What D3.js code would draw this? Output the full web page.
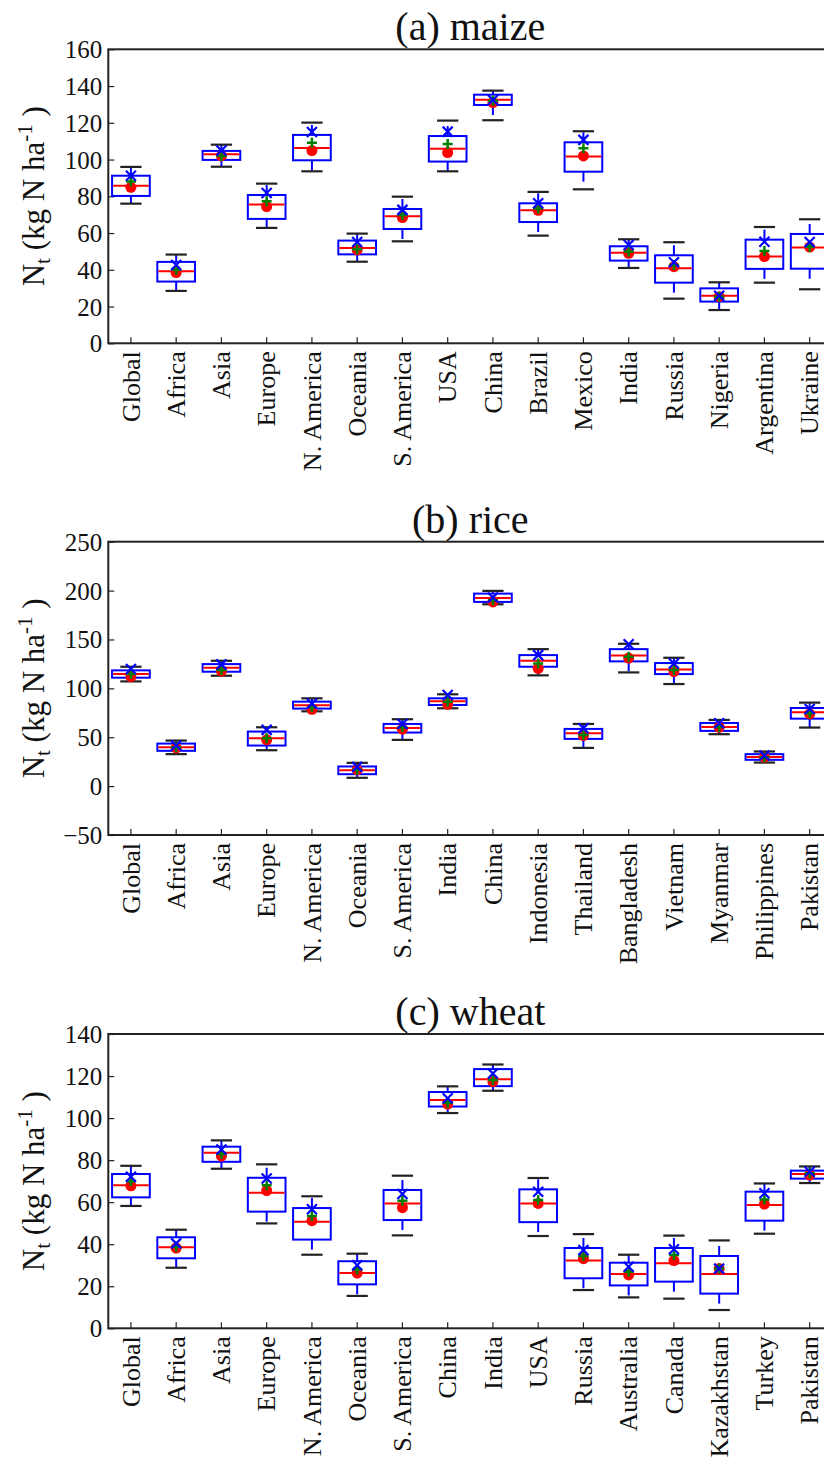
<!DOCTYPE html>
<html><head><meta charset="utf-8">
<script src="https://cdn.jsdelivr.net/npm/d3@7"></script>
<style>body{margin:0;background:#fff}svg{display:block}</style>
</head><body>
<svg id="chart" width="824" height="1465"></svg>
<script>
// ---------- DATA ----------
const maizeCats = ["Global","Africa","Asia","Europe","N. America","Oceania","S. America","USA","China","Brazil","Mexico","India","Russia","Nigeria","Argentina","Ukraine"];
const maizeLow   = [76.0,28.5,96.1,62.8,93.6,44.4,55.5,93.6,121.4,58.6,83.8,41.0,24.3,18.1,33.0,29.4];
const maizeQ1    = [80.2,33.6,99.8,67.7,99.6,48.4,62.2,98.9,129.7,66.0,93.4,45.0,33.0,22.7,40.5,40.6];
const maizeMed   = [85.8,39.2,102.9,75.5,106.3,51.9,69.1,105.9,132.6,72.4,101.6,49.3,40.8,25.9,47.3,52.1];
const maizeQ3    = [91.2,44.3,104.7,80.7,113.4,55.9,73.1,112.8,135.3,76.2,109.4,52.8,47.9,29.9,56.4,59.5];
const maizeHigh  = [96.0,48.3,108.1,86.9,120.1,59.7,79.8,121.2,137.5,82.4,115.4,56.6,55.0,33.2,63.3,67.5];
const maizeDot   = [84.9,38.5,102.0,74.4,104.9,50.8,68.4,103.8,131.0,72.4,102.0,49.0,41.7,25.4,47.2,52.4];
const maizePlus  = [88.0,40.0,102.0,77.3,109.2,51.2,69.8,108.5,132.0,73.3,106.1,49.9,42.6,25.4,50.2,52.6];
const maizeCross = [91.2,42.6,104.9,81.8,115.0,55.1,72.6,115.2,132.4,76.2,110.7,53.5,44.1,25.9,55.3,55.1];

const riceCats = ["Global","Africa","Asia","Europe","N. America","Oceania","S. America","India","China","Indonesia","Thailand","Bangladesh","Vietnam","Myanmar","Philippines","Pakistan"];
const riceLow   = [107.1,32.7,112.9,36.7,76.5,8.5,47.3,79.6,186.0,113.3,39.1,116.3,104.4,53.1,24.1,59.9];
const riceQ1    = [110.9,36.1,117.0,41.5,79.3,12.2,54.8,83.0,188.4,122.1,48.3,127.6,114.6,56.5,26.9,69.0];
const riceMed   = [114.6,39.8,121.1,49.0,82.7,16.3,59.5,86.7,192.5,128.2,54.1,133.7,119.4,60.5,29.9,75.5];
const riceQ3    = [118.4,43.5,124.8,55.8,86.4,20.1,63.6,89.8,196.9,134.0,58.5,140.1,125.9,64.6,32.7,79.9];
const riceHigh  = [122.1,46.6,128.2,60.2,89.8,23.8,68.4,93.9,199.7,140.1,63.6,145.6,131.3,67.7,35.4,85.4];
const riceDot   = [111.9,39.1,117.7,47.3,78.6,16.7,58.2,83.7,188.4,120.4,51.7,131.0,117.0,60.2,29.6,73.8];
const ricePlus  = [114.6,39.8,118.7,49.0,80.6,16.7,60.2,86.4,190.0,125.5,52.4,132.3,118.7,60.5,29.6,74.5];
const riceCross = [119.7,41.5,124.5,57.5,84.4,19.7,63.6,93.2,192.9,134.0,59.2,145.2,125.5,64.3,31.3,78.9];

const wheatCats = ["Global","Africa","Asia","Europe","N. America","Oceania","S. America","China","India","USA","Russia","Australia","Canada","Kazakhstan","Turkey","Pakistan"];
const wheatLow   = [58.2,28.8,75.9,49.9,35.0,15.4,44.2,102.4,113.0,43.9,18.2,14.7,14.1,8.7,45.0,69.1];
const wheatQ1    = [62.3,33.3,79.2,55.5,42.2,20.9,51.5,105.5,115.2,50.5,23.8,20.4,22.2,16.5,51.2,71.2];
const wheatMed   = [68.1,38.5,83.5,64.5,50.7,26.3,59.4,108.6,118.5,59.4,32.2,25.8,30.9,25.8,58.6,73.4];
const wheatQ3    = [73.4,43.3,86.4,71.6,57.2,31.9,65.8,112.4,123.3,66.1,38.2,31.2,38.2,34.4,65.0,75.0];
const wheatHigh  = [77.3,46.9,89.4,78.0,62.8,35.5,72.6,115.1,125.5,71.5,44.8,35.0,44.1,41.8,68.9,77.0];
const wheatDot   = [67.8,38.2,81.9,65.5,51.2,26.3,57.4,106.7,117.3,59.4,33.1,25.4,32.2,28.4,59.1,72.9];
const wheatPlus  = [70.0,38.8,82.9,68.1,53.4,28.0,60.7,107.3,118.1,61.0,34.4,26.9,34.9,28.4,61.3,73.7];
const wheatCross = [72.1,40.4,85.1,71.3,56.6,30.0,63.9,109.4,121.2,65.0,37.2,29.3,37.6,28.4,64.2,74.5];

const maizeTicks = [0,20,40,60,80,100,120,140,160];
const riceTicks  = [-50,0,50,100,150,200,250];
const wheatTicks = [0,20,40,60,80,100,120,140];

// ---------- DRAW ----------
const svg = d3.select("#chart");
const FONT = "Liberation Serif";
const axisLeftX = 108.3, step = 45.25;
const axisRightX = axisLeftX + step * 16;

const panels = [
  {title:"(a) maize", cats:maizeCats, low:maizeLow, q1:maizeQ1, med:maizeMed, q3:maizeQ3, high:maizeHigh,
   dot:maizeDot, plus:maizePlus, cross:maizeCross, ticks:maizeTicks, dom:[0,160], top:49.3, bottom:343.3},
  {title:"(b) rice", cats:riceCats, low:riceLow, q1:riceQ1, med:riceMed, q3:riceQ3, high:riceHigh,
   dot:riceDot, plus:ricePlus, cross:riceCross, ticks:riceTicks, dom:[-50,250], top:541.7, bottom:835},
  {title:"(c) wheat", cats:wheatCats, low:wheatLow, q1:wheatQ1, med:wheatMed, q3:wheatQ3, high:wheatHigh,
   dot:wheatDot, plus:wheatPlus, cross:wheatCross, ticks:wheatTicks, dom:[0,140], top:1034, bottom:1328.3}
];

panels.forEach(p => {
  const g = svg.append("g").style("font-family", FONT);
  const x = d3.scaleBand().domain(p.cats).range([axisLeftX, axisRightX]).paddingInner(0).paddingOuter(0);
  const y = d3.scaleLinear().domain(p.dom).range([p.bottom, p.top]);
  const cx = c => x(c) + x.bandwidth()/2;
  const boxW = x.bandwidth()*0.833, capW = x.bandwidth()*0.47;

  // Y axis
  const yAxis = d3.axisLeft(y).tickValues(p.ticks).tickSize(-6).tickPadding(12).tickFormat(d3.format("d"));
  const ya = g.append("g").attr("transform", `translate(${axisLeftX},0)`).call(yAxis);
  ya.attr("font-family", null).attr("font-size", null);
  ya.select(".domain").remove();
  ya.selectAll(".tick line").attr("stroke","#222").attr("stroke-width",1.2);
  ya.selectAll(".tick text").style("font-family",FONT).style("font-size","25px").attr("fill","#111").attr("x",-6).attr("dy","0.34em");

  // X axis
  const xAxis = d3.axisBottom(x).tickSize(-6).tickPadding(8);
  const xa = g.append("g").attr("transform", `translate(0,${p.bottom})`).call(xAxis);
  xa.attr("font-family", null).attr("font-size", null);
  xa.select(".domain").remove();
  xa.selectAll(".tick line").attr("stroke","#222").attr("stroke-width",1.2);
  xa.selectAll(".tick text").style("font-family",FONT).style("font-size","26px").attr("fill","#111")
    .attr("transform","rotate(-90)").attr("text-anchor","end").attr("x",-8).attr("y",0).attr("dy","0.33em");

  // Frame
  g.append("rect").attr("x",axisLeftX).attr("y",p.top).attr("width",axisRightX-axisLeftX).attr("height",p.bottom-p.top)
    .attr("fill","none").attr("stroke","#222").attr("stroke-width",2);

  // Title
  g.append("text").attr("x",(axisLeftX+axisRightX)/2).attr("y",p.top-9).attr("text-anchor","middle")
    .style("font-family",FONT).style("font-size","40px").attr("fill","#111").text(p.title);

  // Y label
  const yl = g.append("text").attr("transform",`translate(44,${(p.top+p.bottom)/2}) rotate(-90)`)
    .attr("text-anchor","middle").style("font-family",FONT).style("font-size","31px").attr("fill","#111");
  yl.append("tspan").text("N");
  yl.append("tspan").style("font-size","21px").attr("dy",6).text("t");
  yl.append("tspan").attr("dy",-6).text(" (kg N  ha");
  yl.append("tspan").style("font-size","21px").attr("dy",-12).text("-1");
  yl.append("tspan").attr("dy",12).text(" )");

  const idx = d3.range(p.cats.length);
  const bx = g.append("g");
  idx.forEach(i => {
    const c = cx(p.cats[i]);
    // whiskers (dashed, blue)
    bx.append("line").attr("x1",c).attr("x2",c).attr("y1",y(p.q3[i])).attr("y2",y(p.high[i]))
      .attr("stroke","#0000ff").attr("stroke-width",2).attr("stroke-dasharray","10,12");
    bx.append("line").attr("x1",c).attr("x2",c).attr("y1",y(p.q1[i])).attr("y2",y(p.low[i]))
      .attr("stroke","#0000ff").attr("stroke-width",2).attr("stroke-dasharray","10,12");
    // caps
    [p.high[i], p.low[i]].forEach(v => {
      bx.append("line").attr("x1",c-capW/2).attr("x2",c+capW/2).attr("y1",y(v)).attr("y2",y(v))
        .attr("stroke","#222").attr("stroke-width",2.2);
    });
    // box
    bx.append("rect").attr("x",c-boxW/2).attr("y",y(p.q3[i])).attr("width",boxW).attr("height",y(p.q1[i])-y(p.q3[i]))
      .attr("fill","none").attr("stroke","#0000ff").attr("stroke-width",2);
    // median
    bx.append("line").attr("x1",c-boxW/2+1).attr("x2",c+boxW/2-1).attr("y1",y(p.med[i])).attr("y2",y(p.med[i]))
      .attr("stroke","#ff0000").attr("stroke-width",2);
  });
  // red dots
  bx.selectAll("circle.dot").data(idx).enter().append("circle").attr("class","dot")
    .attr("cx",i=>cx(p.cats[i])).attr("cy",i=>y(p.dot[i])).attr("r",5.5).attr("fill","#ff0000");
  // green plus
  const ps = 5;
  bx.selectAll("path.plus").data(idx).enter().append("path").attr("class","plus")
    .attr("d",i=>{const c=cx(p.cats[i]), v=y(p.plus[i]); return `M${c-ps},${v}H${c+ps}M${c},${v-ps}V${v+ps}`;})
    .attr("stroke","#008000").attr("stroke-width",2.5).attr("fill","none");
  // blue x
  const xs = 5;
  bx.selectAll("path.cross").data(idx).enter().append("path").attr("class","cross")
    .attr("d",i=>{const c=cx(p.cats[i]), v=y(p.cross[i]); return `M${c-xs},${v-xs}L${c+xs},${v+xs}M${c-xs},${v+xs}L${c+xs},${v-xs}`;})
    .attr("stroke","#0000ff").attr("stroke-width",2.2).attr("fill","none");
});
</script>
</body></html>
